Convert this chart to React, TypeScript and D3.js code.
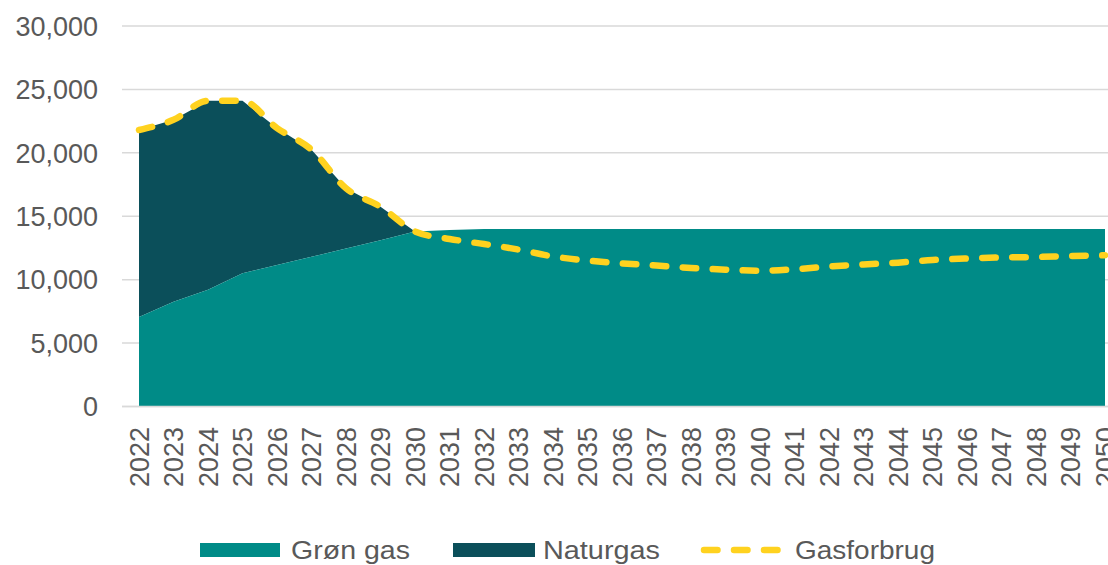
import React from "react";
import * as d3 from "d3";

const years: string[] = [
  "2022","2023","2024","2025","2026","2027","2028","2029","2030","2031","2032","2033","2034","2035",
  "2036","2037","2038","2039","2040","2041","2042","2043","2044","2045","2046","2047","2048","2049","2050",
];
const gronGas: number[] = [
  7050, 8250, 9200, 10500, 11150, 11800, 12450, 13100, 13800, 13920, 14000, 14000, 14000, 14000,
  14000, 14000, 14000, 14000, 14000, 14000, 14000, 14000, 14000, 14000, 14000, 14000, 14000, 14000, 14000,
];
const naturgas: number[] = [
  14750, 14350, 14900, 13600, 10800, 8450, 4750, 2650, 0, 0, 0, 0, 0, 0,
  0, 0, 0, 0, 0, 0, 0, 0, 0, 0, 0, 0, 0, 0, 0,
];
const gasforbrug: number[] = [
  21800, 22600, 24100, 24100, 21950, 20250, 17200, 15750, 13800, 13210, 12810, 12370, 11830, 11510,
  11280, 11120, 10920, 10790, 10710, 10820, 11040, 11200, 11340, 11550, 11670, 11750, 11790, 11870, 11920,
];
const yTicks: number[] = [0, 5000, 10000, 15000, 20000, 25000, 30000];
const legendLabels: string[] = ["Grøn gas", "Naturgas", "Gasforbrug"];

const W = 1108;
const H = 565;
const COL_GREEN = "#008B87";
const COL_NAT = "#0B4F5A";
const COL_LINE = "#FFD21F";
const COL_TEXT = "#595959";
const COL_GRID = "#D9D9D9";
const FONT = "'Liberation Sans', Arial, sans-serif";

export default function App() {
  const x = d3.scalePoint<string>().domain(years).range([139, 1105]);
  const y = d3.scaleLinear().domain([0, 30000]).range([406.5, 26]);

  const rows = years.map((yr, i) => ({ yr, g: gronGas[i], n: naturgas[i], t: gasforbrug[i] }));

  const areaGreen = d3
    .area<any>()
    .x((d) => x(d.yr)!)
    .y0(() => y(0))
    .y1((d) => y(d.g));
  const areaNat = d3
    .area<any>()
    .x((d) => x(d.yr)!)
    .y0((d) => y(d.g))
    .y1((d) => y(d.g + d.n));
  const natRows = rows.filter((_, i) => i <= 8);
  const line = d3
    .line<any>()
    .x((d) => x(d.yr)!)
    .y((d) => y(d.t))
    .curve(d3.curveMonotoneX);

  return (
    <svg
      width={W}
      height={H}
      style={{ position: "absolute", left: 0, top: 0, background: "#fff" }}
      fontFamily={FONT}
    >
      {yTicks.map((t) => (
        <g key={t}>
          <line x1={122} x2={1108} y1={y(t)} y2={y(t)} stroke={COL_GRID} strokeWidth={1.5} />
          <text x={98} y={y(t)} dy="0.36em" textAnchor="end" fontSize={27} fill={COL_TEXT}>
            {d3.format(",")(t)}
          </text>
        </g>
      ))}
      <path d={areaNat(natRows) || ""} fill={COL_NAT} />
      <path d={areaGreen(rows) || ""} fill={COL_GREEN} />
      <line x1={122} x2={1108} y1={y(0)} y2={y(0)} stroke={COL_GRID} strokeWidth={1.5} />
      <path
        d={line(rows) || ""}
        fill="none"
        stroke={COL_LINE}
        strokeWidth={6.5}
        strokeDasharray="13.5 16.5"
        strokeLinecap="round"
      />
      {years.map((yr) => (
        <text
          key={yr}
          transform={`translate(${x(yr)! + 9.5},427) rotate(-90)`}
          textAnchor="end"
          fontSize={27}
          fill={COL_TEXT}
        >
          {yr}
        </text>
      ))}
      <g>
        <rect x={200} y={543} width={80} height={14} fill={COL_GREEN} />
        <text x={291} y={559} fontSize={25} fill={COL_TEXT} textLength={119} lengthAdjust="spacingAndGlyphs">
          {legendLabels[0]}
        </text>
        <rect x={453} y={543} width={82} height={14} fill={COL_NAT} />
        <text x={543} y={559} fontSize={25} fill={COL_TEXT} textLength={117} lengthAdjust="spacingAndGlyphs">
          {legendLabels[1]}
        </text>
        <line
          x1={704}
          x2={782}
          y1={550}
          y2={550}
          stroke={COL_LINE}
          strokeWidth={6.5}
          strokeDasharray="13.5 16.5"
          strokeLinecap="round"
        />
        <text x={795} y={559} fontSize={25} fill={COL_TEXT} textLength={140} lengthAdjust="spacingAndGlyphs">
          {legendLabels[2]}
        </text>
      </g>
    </svg>
  );
}
